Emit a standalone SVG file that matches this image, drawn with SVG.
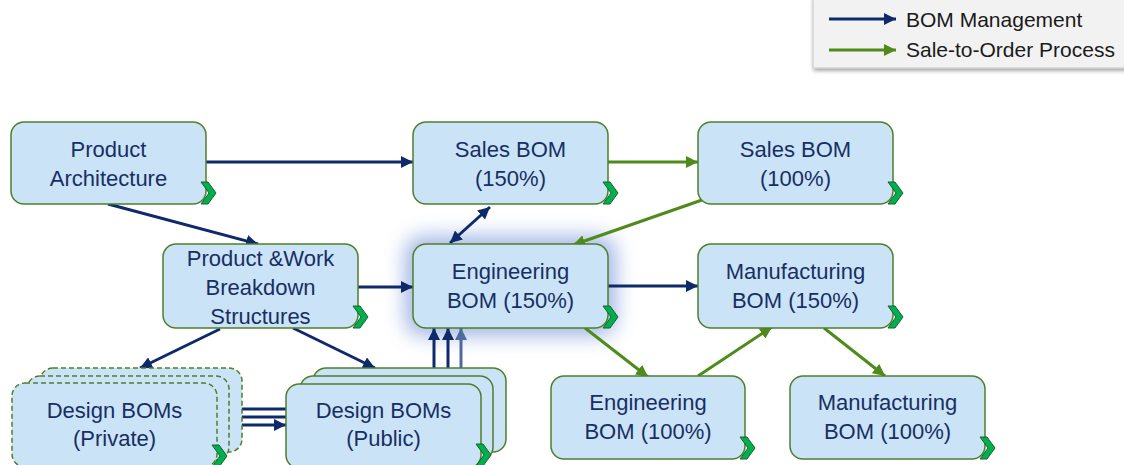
<svg xmlns="http://www.w3.org/2000/svg" xmlns:xlink="http://www.w3.org/1999/xlink" width="1124" height="465" viewBox="0 0 1124 465">
<style>
.box{fill:#CBE3F7;stroke:#4F7F2A;stroke-width:1.5}
.dash{fill:#CBE3F7;stroke:#4F7F2A;stroke-width:1.5;stroke-dasharray:5 3}
.t{font-family:"Liberation Sans",Arial,sans-serif;font-size:22px;fill:#172F63;text-anchor:middle}
.lt{font-family:"Liberation Sans",Arial,sans-serif;font-size:21px;fill:#1A1A1A}
.n{stroke:#0F2A6B;stroke-width:3;fill:none}
.g{stroke:#4E8B1A;stroke-width:3;fill:none}
.chev{fill:#00B050;stroke:#1D5E2A;stroke-width:1}
</style>
<defs>
<marker id="an" viewBox="0 0 10 10" refX="10" refY="5" markerWidth="12" markerHeight="12" markerUnits="userSpaceOnUse" orient="auto-start-reverse"><path d="M0,0 L10,5 L0,10 Z" fill="#0F2A6B"/></marker>
<marker id="anl" viewBox="0 0 10 10" refX="10" refY="5" markerWidth="12" markerHeight="12" markerUnits="userSpaceOnUse" orient="auto"><path d="M0,0 L10,5 L0,10 Z" fill="#4E6A9E"/></marker>
<marker id="ag" viewBox="0 0 10 10" refX="10" refY="5" markerWidth="12" markerHeight="12" markerUnits="userSpaceOnUse" orient="auto"><path d="M0,0 L10,5 L0,10 Z" fill="#4E8B1A"/></marker>
<path id="chev" d="M0,0 H7 L15,11 L7,22 H0 L8,11 Z"/>
<filter id="glow" x="-40%" y="-70%" width="180%" height="240%"><feGaussianBlur stdDeviation="10"/></filter>
<filter id="shadow" x="-10%" y="-20%" width="130%" height="160%"><feGaussianBlur in="SourceAlpha" stdDeviation="2"/><feOffset dx="1" dy="2"/><feComponentTransfer><feFuncA type="linear" slope="0.4"/></feComponentTransfer><feMerge><feMergeNode/><feMergeNode in="SourceGraphic"/></feMerge></filter>
</defs>

<g id="legend">
<rect x="813" y="-3" width="320" height="71" fill="#F2F2F2" stroke="#C8C8C8" stroke-width="1" filter="url(#shadow)"/>
<line x1="829" y1="19" x2="896" y2="19" class="n" marker-end="url(#an)"/>
<line x1="829" y1="50" x2="896" y2="50" class="g" marker-end="url(#ag)"/>
<text x="906" y="27" class="lt">BOM Management</text>
<text x="906" y="57" class="lt">Sale-to-Order Process</text>
</g>

<g id="eng150-glow">
<rect x="405" y="236" width="211" height="100" rx="18" fill="#8CA5DE" opacity="0.8" filter="url(#glow)"/>
</g>

<g id="connectors">
<line x1="206" y1="162" x2="413" y2="162" class="n" marker-end="url(#an)"/>
<line x1="108" y1="204" x2="258" y2="244" class="n" marker-end="url(#an)"/>
<line x1="490" y1="207" x2="450" y2="243" class="n" marker-start="url(#an)" marker-end="url(#an)"/>
<line x1="358" y1="287" x2="413" y2="287" class="n" marker-end="url(#an)"/>
<line x1="608" y1="286" x2="698" y2="286" class="n" marker-end="url(#an)"/>
<line x1="220" y1="329" x2="140" y2="368" class="n" marker-end="url(#an)"/>
<line x1="293" y1="328" x2="375" y2="368" class="n" marker-end="url(#an)"/>
<line x1="242" y1="409" x2="286" y2="409" class="n"/>
<line x1="229" y1="417" x2="286" y2="417" class="n"/>
<line x1="217" y1="425" x2="286" y2="425" class="n" marker-end="url(#an)"/>
<line x1="434" y1="384" x2="434" y2="328" class="n" marker-end="url(#an)"/>
<line x1="448" y1="376" x2="448" y2="328" class="n" marker-end="url(#an)"/>
<line x1="461" y1="368" x2="461" y2="328" stroke="#4E6A9E" stroke-width="3" marker-end="url(#anl)"/>
<line x1="608" y1="162" x2="698" y2="162" class="g" marker-end="url(#ag)"/>
<line x1="702" y1="200" x2="573" y2="245" class="g" marker-end="url(#ag)"/>
<line x1="585" y1="328" x2="648" y2="377" class="g" marker-end="url(#ag)"/>
<line x1="698" y1="376" x2="772" y2="327" class="g" marker-end="url(#ag)"/>
<line x1="824" y1="328" x2="885" y2="376" class="g" marker-end="url(#ag)"/>
</g>

<g id="product-architecture">
<rect x="11" y="122" width="195" height="82" rx="13" class="box"/>
<text x="108.5" y="157" class="t">Product</text>
<text x="108.5" y="186" class="t">Architecture</text>
<use href="#chev" x="201" y="182" class="chev"/>
</g>

<g id="sales-bom-150">
<rect x="413" y="122" width="195" height="82" rx="13" class="box"/>
<text x="510.5" y="157" class="t">Sales BOM</text>
<text x="510.5" y="186" class="t">(150%)</text>
<use href="#chev" x="603" y="182" class="chev"/>
</g>

<g id="sales-bom-100">
<rect x="698" y="122" width="195" height="82" rx="13" class="box"/>
<text x="795.5" y="157" class="t">Sales BOM</text>
<text x="795.5" y="186" class="t">(100%)</text>
<use href="#chev" x="888" y="182" class="chev"/>
</g>

<g id="pwbs">
<rect x="163" y="244" width="195" height="84" rx="13" class="box"/>
<text x="260.5" y="266" class="t">Product &amp;Work</text>
<text x="260.5" y="295" class="t">Breakdown</text>
<text x="260.5" y="324" class="t">Structures</text>
<use href="#chev" x="353" y="306" class="chev"/>
</g>

<g id="engineering-bom-150">
<rect x="413" y="244" width="195" height="84" rx="13" class="box"/>
<text x="510.5" y="279" class="t">Engineering</text>
<text x="510.5" y="308" class="t">BOM (150%)</text>
<use href="#chev" x="603" y="306" class="chev"/>
</g>

<g id="manufacturing-bom-150">
<rect x="698" y="244" width="195" height="84" rx="13" class="box"/>
<text x="795.5" y="279" class="t">Manufacturing</text>
<text x="795.5" y="308" class="t">BOM (150%)</text>
<use href="#chev" x="888" y="306" class="chev"/>
</g>

<g id="engineering-bom-100">
<rect x="551" y="376" width="194" height="83" rx="13" class="box"/>
<text x="648" y="410" class="t">Engineering</text>
<text x="648" y="439" class="t">BOM (100%)</text>
<use href="#chev" x="740" y="437" class="chev"/>
</g>

<g id="manufacturing-bom-100">
<rect x="790" y="376" width="195" height="83" rx="13" class="box"/>
<text x="887.5" y="410" class="t">Manufacturing</text>
<text x="887.5" y="439" class="t">BOM (100%)</text>
<use href="#chev" x="980" y="437" class="chev"/>
</g>

<g id="design-boms-private">
<rect x="40" y="368" width="202" height="84" rx="13" class="dash"/>
<rect x="27" y="376" width="202" height="84" rx="13" class="dash"/>
<rect x="12" y="383" width="205" height="84" rx="13" class="dash"/>
<text x="114.5" y="418" class="t">Design BOMs</text>
<text x="114.5" y="446" class="t">(Private)</text>
<use href="#chev" x="212" y="445" class="chev"/>
</g>

<g id="design-boms-public">
<rect x="313" y="368" width="193" height="84" rx="13" class="box"/>
<rect x="300" y="376" width="193" height="84" rx="13" class="box"/>
<rect x="286" y="384" width="195" height="84" rx="13" class="box"/>
<text x="383.5" y="418" class="t">Design BOMs</text>
<text x="383.5" y="446" class="t">(Public)</text>
<use href="#chev" x="476" y="444" class="chev"/>
</g>
</svg>
